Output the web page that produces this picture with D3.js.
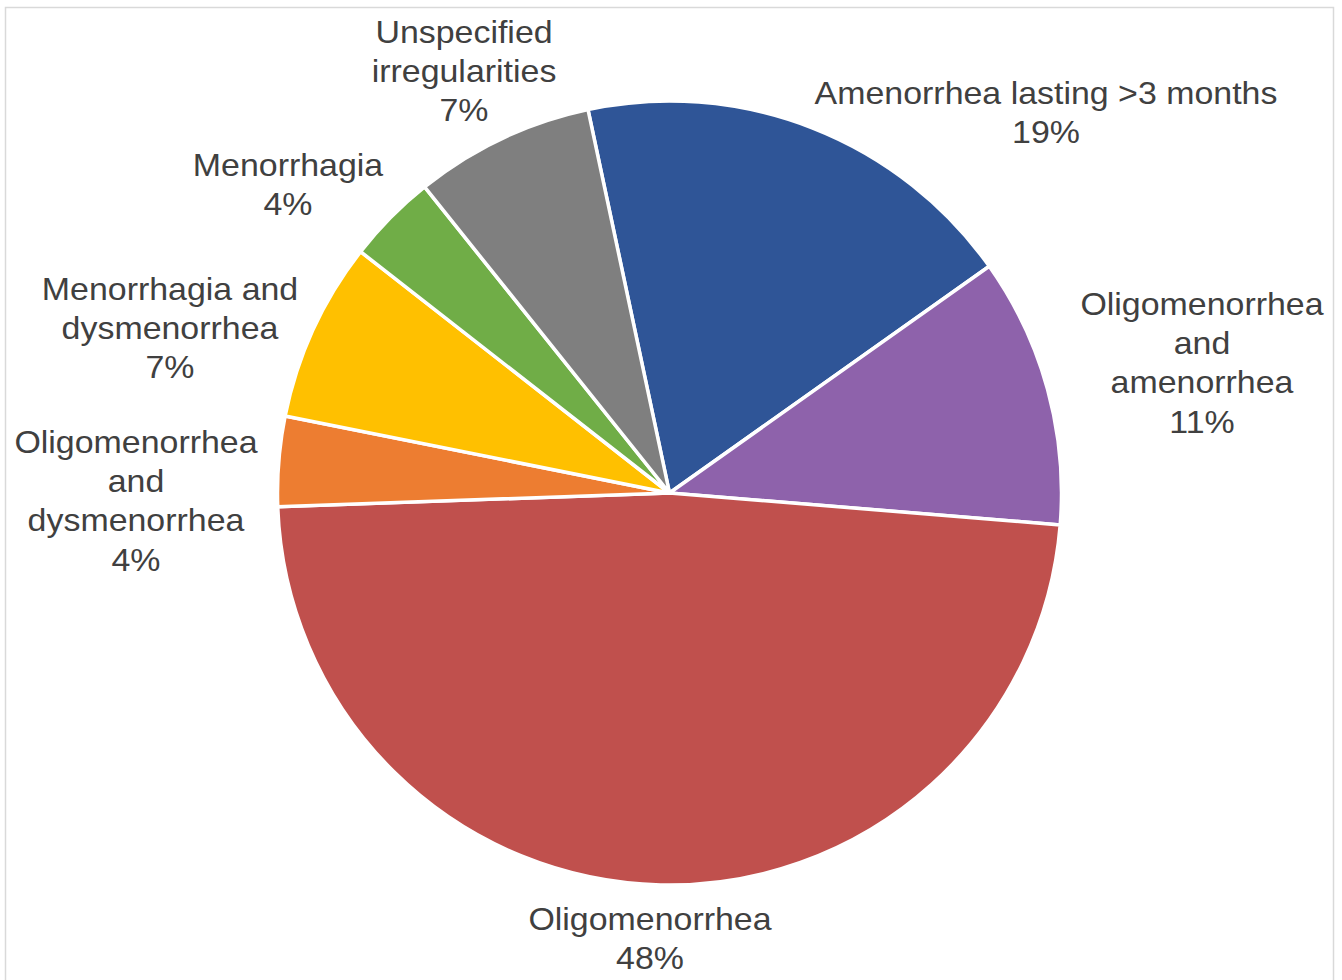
<!DOCTYPE html>
<html>
<head>
<meta charset="utf-8">
<script src="https://cdn.jsdelivr.net/npm/d3@7"></script>
<style>
  html, body { margin: 0; padding: 0; background: #ffffff; }
  svg { display: block; }
  text { font-family: "Liberation Sans", Arial, sans-serif; }
</style>
</head>
<body>
<svg id="chart" width="1342" height="980"></svg>
<script>
// ---- data ----
const categories = [
  "Amenorrhea lasting >3 months",
  "Oligomenorrhea and amenorrhea",
  "Oligomenorrhea",
  "Oligomenorrhea and dysmenorrhea",
  "Menorrhagia and dysmenorrhea",
  "Menorrhagia",
  "Unspecified irregularities"
];
const counts = [5, 3, 13, 1, 2, 1, 2];
// label text broken into lines as in the reference
const labelLines = [
  ["Amenorrhea lasting >3 months"],
  ["Oligomenorrhea", "and", "amenorrhea"],
  ["Oligomenorrhea"],
  ["Oligomenorrhea", "and", "dysmenorrhea"],
  ["Menorrhagia and", "dysmenorrhea"],
  ["Menorrhagia"],
  ["Unspecified", "irregularities"]
];
const colors = ["#2F5597", "#8E62AB", "#C0504D", "#ED7D31", "#FFC000", "#70AD47", "#7F7F7F"];

// ---- layout ----
const W = 1342, H = 980;
const cx = 669.5, cy = 493, R = 392;
const startDeg = -12;
const labelAnchors = [
  [1046, 104], [1202, 315], [650, 930], [136, 453], [170, 300], [288, 176], [464, 43]
];
const lineH = 39.2;

const svg = d3.select("#chart");

// frame
svg.append("rect")
  .attr("x", 5.5).attr("y", 7.5)
  .attr("width", 1328).attr("height", 990)
  .attr("fill", "#ffffff")
  .attr("stroke", "#d9d9d9")
  .attr("stroke-width", 1.5);

const total = d3.sum(counts);
const data = categories.map((c, i) => ({ name: c, value: counts[i], color: colors[i], lines: labelLines[i], i }));

const pie = d3.pie()
  .value(d => d.value)
  .sort(null)
  .startAngle(startDeg * Math.PI / 180)
  .endAngle(startDeg * Math.PI / 180 + 2 * Math.PI);

const arc = d3.arc().innerRadius(0).outerRadius(R);

const g = svg.append("g").attr("transform", `translate(${cx},${cy})`);
g.selectAll("path.slice")
  .data(pie(data))
  .join("path")
  .attr("class", "slice")
  .attr("d", arc)
  .attr("fill", d => d.data.color)
  .attr("stroke", "#ffffff")
  .attr("stroke-width", 3.5)
  .attr("stroke-linejoin", "round");

const pct = d3.format(".0%");

const labels = svg.selectAll("g.label")
  .data(data)
  .join("g")
  .attr("class", "label")
  .attr("transform", d => `translate(${labelAnchors[d.i][0]},${labelAnchors[d.i][1]}) scale(1.06,1)`);

labels.each(function(d) {
  const t = d3.select(this).append("text")
    .attr("text-anchor", "middle")
    .attr("font-size", 32)
    .attr("fill", "#404040");
  const lines = d.lines.concat([pct(d.value / total)]);
  lines.forEach((ln, k) => {
    t.append("tspan").attr("x", 0).attr("y", k * lineH).text(ln);
  });
});
</script>
</body>
</html>
